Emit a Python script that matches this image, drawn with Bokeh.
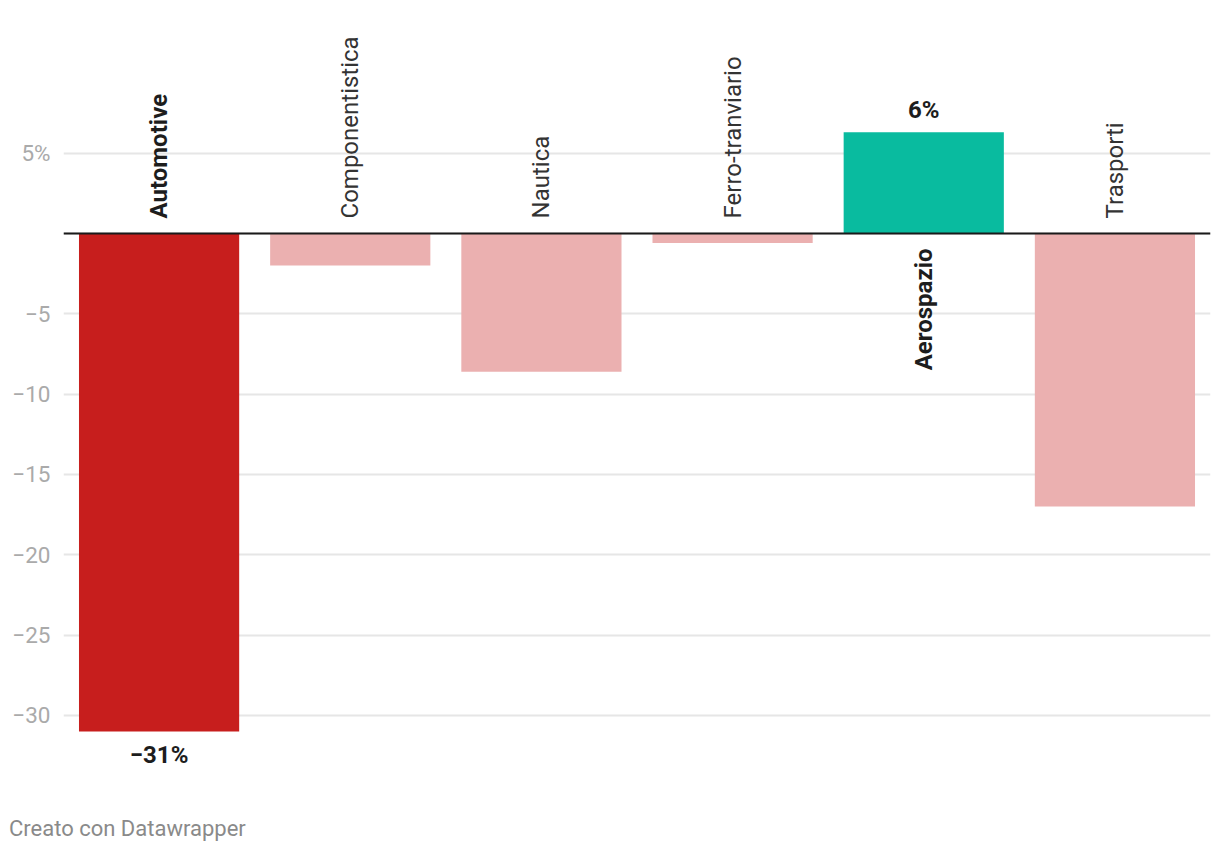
import numpy as np
from bokeh.plotting import figure
from bokeh.models import FactorRange, Range1d, FixedTicker, Span, ColumnDataSource, Div
from bokeh.layouts import column
from bokeh.embed import file_html
from bokeh.resources import INLINE
from bokeh.core.properties import value

# ---- data ----
categories = ["Automotive", "Componentistica", "Nautica", "Ferro-tranviario", "Aerospazio", "Trasporti"]
values = [-31.0, -2.0, -8.6, -0.6, 6.3, -17.0]
highlighted = ["Automotive", "Aerospazio"]
y_ticks = [5, 0, -5, -10, -15, -20, -25, -30]
tick_labels = ["5%", "", "\u22125", "\u221210", "\u221215", "\u221220", "\u221225", "\u221230"]
footer_text = "Creato con Datawrapper"

# ---- styles ----
HIGHLIGHT_COLORS = {"Automotive": "#c71e1d", "Aerospazio": "#09bb9f"}
DEFAULT_COLOR = "#ebb0b0"
FONT = "Roboto"
TICK_FS = "22.5px"
LABEL_FS = "24px"

p = figure(
    x_range=FactorRange(*categories, range_padding=0),
    y_range=Range1d(-35.17, 13.38),
    width=1212, height=808,
    output_backend="svg", toolbar_location=None,
    min_border_left=63, min_border_right=2, min_border_top=18, min_border_bottom=10,
)
p.outline_line_color = None
p.xaxis.visible = False
p.xgrid.grid_line_color = None
p.ygrid.grid_line_color = "#e6e6e6"
p.ygrid.grid_line_width = 2

p.yaxis.ticker = FixedTicker(ticks=y_ticks)
p.yaxis.major_label_overrides = {t: l for t, l in zip(y_ticks, tick_labels)}
p.yaxis.axis_line_color = None
p.yaxis.major_tick_line_color = None
p.yaxis.minor_tick_line_color = None
p.yaxis.major_tick_in = 0
p.yaxis.major_tick_out = 0
p.yaxis.major_label_standoff = 13
p.yaxis.major_label_text_font = FONT
p.yaxis.major_label_text_font_size = TICK_FS
p.yaxis.major_label_text_color = "#aaaaaa"

colors = [HIGHLIGHT_COLORS.get(c, DEFAULT_COLOR) for c in categories]
src = ColumnDataSource(dict(x=categories, top=values, color=colors))
p.vbar(x="x", top="top", bottom=0, width=0.838, fill_color="color", line_color=None, source=src)

p.add_layout(Span(location=0, dimension="width", line_color="#1a1a1a", line_width=2))

# category labels (rotated), opposite side of the bar
cat_src = ColumnDataSource(dict(
    x=categories,
    y=[0] * len(categories),
    text=categories,
    align=["right" if v > 0 else "left" for v in values],
    yoff=[15 if v > 0 else -15 for v in values],
    style=["bold" if c in highlighted else "normal" for c in categories],
    color=["#1d1d1d" if c in highlighted else "#333333" for c in categories],
))
p.text(x="x", y="y", text="text", source=cat_src, angle=np.pi / 2,
       text_align="align", text_baseline="middle", y_offset="yoff",
       text_font=value(FONT), text_font_size=LABEL_FS, text_font_style="style",
       text_color="color")

# value labels for highlighted bars
hv = [(c, v) for c, v in zip(categories, values) if c in highlighted]
val_src = ColumnDataSource(dict(
    x=[c for c, v in hv],
    y=[v for c, v in hv],
    text=[(f"{round(v):d}%").replace("-", "\u2212") for c, v in hv],
    baseline=["alphabetic" if v > 0 else "top" for c, v in hv],
    yoff=[-22 if v > 0 else 9 for c, v in hv],
))
p.text(x="x", y="y", text="text", source=val_src,
       text_align="center", text_baseline="baseline", y_offset="yoff",
       text_font=value(FONT), text_font_size=LABEL_FS, text_font_style="bold",
       text_color="#1d1d1d")

footer = Div(text=footer_text, margin=(5, 0, 0, 9),
             styles={"font-family": FONT, "font-size": "22px", "color": "#8a8a8a"})

layout = column(p, footer)
open("out.html", "w").write(file_html(layout, INLINE))
